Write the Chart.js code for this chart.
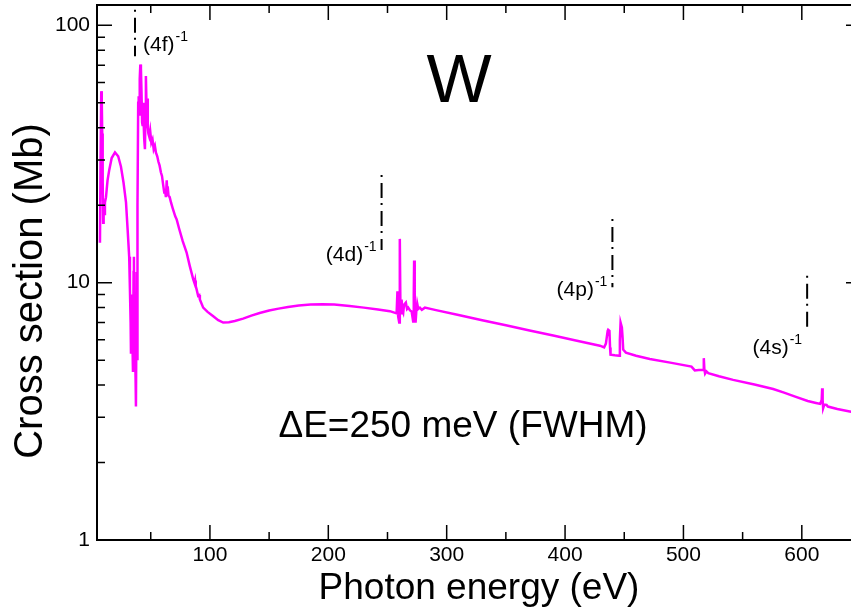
<!DOCTYPE html>
<html>
<head>
<meta charset="utf-8">
<script src="https://cdn.jsdelivr.net/npm/chart.js@4.4.1/dist/chart.umd.min.js"></script>
<style>
  html, body { margin: 0; padding: 0; background: #fff; overflow: hidden; }
  #wrap { width: 870px; height: 609px; }
</style>
</head>
<body>
<div id="wrap"><canvas id="chart1" width="870" height="609"></canvas></div>
<script>
// photon energy (eV) and cross section (Mb)
const energies = [
  7.1, 7.6, 8.2, 8.6, 9.0, 9.4, 9.8, 10.2, 10.7, 11.3, 12.2, 13.5, 15.0, 17.0, 19.8, 22.5, 24.8, 27.0, 29.1, 30.5,
  31.8, 32.4, 33.0, 33.3, 33.8, 34.5, 35.0, 35.5, 35.8, 36.2, 36.7, 37.2, 37.5, 37.9, 38.1, 38.4, 38.6, 39.0, 39.4, 39.8,
  40.3, 40.7, 41.2, 41.7, 42.2, 42.7, 43.2, 43.6, 44.0, 44.5, 45.1, 45.6, 45.9, 46.5, 47.0, 47.5, 48.0, 48.7, 49.5, 50.5,
  51.5, 52.5, 53.5, 54.4, 55.5, 56.5, 57.5, 58.6, 59.5, 60.5, 61.4, 62.0, 62.8, 63.5, 64.0, 64.3, 65.0, 66.0, 67.1, 68.5,
  70.7, 71.9, 74, 77, 80.3, 83, 85.9, 87, 87.5, 88, 88.8, 90, 91, 91.5, 94.3, 98, 102.8, 107, 111.2, 116,
  121, 128, 135, 142, 150, 158, 166, 175, 185, 195, 205, 218, 230, 242, 252, 257.7,
  258.4, 259.0, 259.9, 260.3, 260.5, 260.9, 261.5, 261.9, 262.6,
  263.3, 264.0, 265.5, 266.5, 267.5, 269, 270.4, 271.7, 272.2, 272.5, 273.0, 273.7, 274.4, 275.1, 276, 277.4, 279, 281.6,
  290, 310, 330, 350, 370, 390, 410, 429.4, 433, 434.5, 436, 436.4, 437.5, 438.0, 438.4, 442, 445.7, 446.3, 446.9, 448.0, 448.6, 449.1, 451.4,
  460, 471.6, 490, 506.8, 509.6, 513, 516.6, 517.2, 517.7, 518.3, 519.5, 521, 530, 542, 560, 575.8, 585, 595, 605, 612, 615.5,
  616.8, 617.2, 617.6, 618.0, 619, 620.9, 622, 630, 640.5, 650
];
const crossSection = [
  14.3, 30, 55.5, 52, 38, 25, 17.1, 20.5, 18.5, 20.5, 21.5, 25, 27.5, 30.5, 32.1, 31, 28.3, 24.5, 20.5, 16,
  12.6, 9.5, 7, 5.3, 9, 6, 4.5, 11, 12.6, 6, 5.5, 4.2, 3.3, 7, 11, 8, 5, 20, 50, 53,
  45, 62, 70.5, 68, 55, 42, 40.6, 50, 42, 36, 33, 48, 63.5, 47, 52, 40, 38, 37, 39, 35,
  36, 33, 34, 32, 31, 29.5, 28.5, 26.8, 26, 24, 22.4, 23, 21.5, 25, 22, 23.7, 21.8, 21.5, 20.5, 19.5,
  18.1, 17.6, 16.2, 14.5, 13.1, 11.6, 10.3, 9.95, 10.2, 9.7, 9.4, 8.9, 8.95, 8.6, 8.0, 7.7, 7.4, 7.15, 7.0, 7.02,
  7.1, 7.25, 7.45, 7.62, 7.8, 7.93, 8.05, 8.15, 8.22, 8.25, 8.23, 8.12, 8.0, 7.87, 7.75, 7.6,
  9.25, 7.4, 7.0, 10, 14.8, 8.2, 7.6, 8.6, 7.8,
  7.65, 8.2, 8.36, 7.9, 8.0, 7.8, 7.73, 7.06, 9, 12.2, 8, 7.0, 7.8, 8.3, 7.9, 8.0, 7.85, 8.0,
  7.84, 7.49, 7.15, 6.83, 6.52, 6.23, 5.95, 5.69, 5.6, 5.8, 6.5, 6.56, 6.5, 5.6, 5.25, 5.22, 5.2, 6.0, 7.0, 6.7, 6.1, 5.5, 5.35,
  5.2, 5.05, 4.88, 4.72, 4.56, 4.58, 4.58, 5.09, 4.6, 4.43, 4.52, 4.45, 4.33, 4.19, 4.02, 3.86, 3.74, 3.6, 3.47, 3.41, 3.38,
  3.5, 3.89, 3.5, 3.25, 3.36, 3.35, 3.3, 3.23, 3.16, 3.1
];

const xTickLabels = [100, 200, 300, 400, 500, 600];
const xMinorTicks = [50, 150, 250, 350, 450, 550, 650];
const yTickLabels = [1, 10, 100];

// ionisation thresholds, with the Mb span of each dash-dot marker
const edgeNames = ['4f', '4d', '4p', '4s'];
const edgeEnergies = [36.7, 245, 440, 604.5];
const edgeTops = [115, 26.2, 17.7, 10.65];
const edgeBottoms = [75.8, 13.4, 9.6, 6.45];

// where each label sits next to its marker
const edgeLabelSide = ['right', 'left', 'left', 'left'];
const edgeLabelDy = [-5, 11, 9, 22];

const FONT = "'Liberation Sans', Arial, Helvetica, sans-serif";

const framePlugin = {
  id: 'frame',
  afterDraw(chart) {
    const ctx = chart.ctx;
    const a = chart.chartArea;
    const x = chart.scales.x;
    const y = chart.scales.y;
    ctx.save();

    // frame
    ctx.strokeStyle = '#000';
    ctx.lineWidth = 2;
    ctx.strokeRect(a.left, a.top, a.right - a.left, a.bottom - a.top);

    // inward ticks
    ctx.lineWidth = 1.5;
    ctx.beginPath();
    const xTick = (v, len) => {
      const px = x.getPixelForValue(v);
      if (px < a.left || px > a.right) return;
      ctx.moveTo(px, a.bottom); ctx.lineTo(px, a.bottom - len);
      ctx.moveTo(px, a.top); ctx.lineTo(px, a.top + len);
    };
    xTickLabels.forEach(v => xTick(v, 15));
    xMinorTicks.forEach(v => xTick(v, 8));
    const yTick = (v, len) => {
      const py = y.getPixelForValue(v);
      if (py < a.top - 0.5 || py > a.bottom + 0.5) return;
      ctx.moveTo(a.left, py); ctx.lineTo(a.left + len, py);
      ctx.moveTo(a.right, py); ctx.lineTo(a.right - len, py);
    };
    yTickLabels.forEach(v => {
      yTick(v, 15);
      for (let m = 2; m <= 9; m++) {
        if (v * m <= y.max) yTick(v * m, 8);
      }
    });
    ctx.stroke();

    // threshold markers
    ctx.lineWidth = 2;
    ctx.setLineDash([2, 6, 15, 5]);
    ctx.fillStyle = '#000';
    for (let i = 0; i < edgeNames.length; i++) {
      const px = x.getPixelForValue(edgeEnergies[i]);
      const top = y.getPixelForValue(edgeTops[i]);
      const bot = y.getPixelForValue(edgeBottoms[i]);
      ctx.beginPath();
      ctx.moveTo(px, top);
      ctx.lineTo(px, bot);
      ctx.stroke();

      const main = '(' + edgeNames[i] + ')';
      ctx.font = '21px ' + FONT;
      const wMain = ctx.measureText(main).width;
      ctx.font = '14px ' + FONT;
      const wSup = ctx.measureText('-1').width;
      const base = bot + edgeLabelDy[i];
      const start = edgeLabelSide[i] === 'right' ? px + 8 : px - 6 - wMain - wSup;
      ctx.textAlign = 'left';
      ctx.textBaseline = 'alphabetic';
      ctx.font = '21px ' + FONT;
      ctx.fillText(main, start, base);
      ctx.font = '14px ' + FONT;
      ctx.fillText('-1', start + wMain + 1, base - 10);
    }
    ctx.setLineDash([]);

    // element symbol and resolution
    ctx.textAlign = 'center';
    ctx.textBaseline = 'alphabetic';
    ctx.font = '69px ' + FONT;
    ctx.fillText('W', a.left + 362, a.top + 97);
    ctx.font = '37px ' + FONT;
    ctx.fillText('\u0394E=250 meV (FWHM)', a.left + 366, a.top + 432);

    // y axis title, sits a bit below the middle of the axis
    ctx.translate(42, 291);
    ctx.rotate(-Math.PI / 2);
    ctx.font = '40px ' + FONT;
    ctx.fillText('Cross section (Mb)', 0, 0);
    ctx.restore();
  }
};

const ctx = document.getElementById('chart1').getContext('2d');
const myChart = new Chart(ctx, {
  type: 'line',
  data: {
    datasets: [
      {
        label: 'W',
        data: energies.map((e, i) => ({ x: e, y: crossSection[i] })),
        borderColor: '#ff00ff',
        borderWidth: 2.5,
        pointRadius: 0,
        tension: 0,
        fill: false,
      },
    ],
  },
  options: {
    responsive: false,
    animation: false,
    layout: { padding: { top: 5, right: 9, left: 0, bottom: 0 } },
    plugins: {
      legend: { display: false },
      tooltip: { enabled: false },
    },
    scales: {
      x: {
        type: 'linear',
        min: 4.6,
        max: 650,
        grid: { display: false, drawTicks: false },
        border: { display: false },
        afterBuildTicks: (scale) => { scale.ticks = xTickLabels.map(v => ({ value: v })); },
        afterFit: (scale) => {
          scale.height = 69;
          scale.paddingLeft = 0;
          scale.paddingRight = 0;
        },
        ticks: {
          color: '#000',
          font: { family: FONT, size: 21 },
          padding: 3,
          maxRotation: 0,
          autoSkip: false,
          callback: (v) => String(v),
        },
        title: {
          display: true,
          text: 'Photon energy (eV)',
          color: '#000',
          font: { family: FONT, size: 37, lineHeight: 1 },
          padding: { top: 0, bottom: 2 },
        },
      },
      y: {
        type: 'logarithmic',
        min: 1,
        max: 120,
        grid: { display: false, drawTicks: false },
        border: { display: false },
        afterBuildTicks: (scale) => { scale.ticks = yTickLabels.map(v => ({ value: v })); },
        afterFit: (scale) => {
          scale.width = 97;
          scale.paddingTop = 0;
          scale.paddingBottom = 0;
        },
        ticks: {
          color: '#000',
          font: { family: FONT, size: 21 },
          padding: 7,
          autoSkip: false,
          callback: (v) => String(v),
        },
      },
    },
  },
  plugins: [framePlugin],
});
</script>
</body>
</html>
